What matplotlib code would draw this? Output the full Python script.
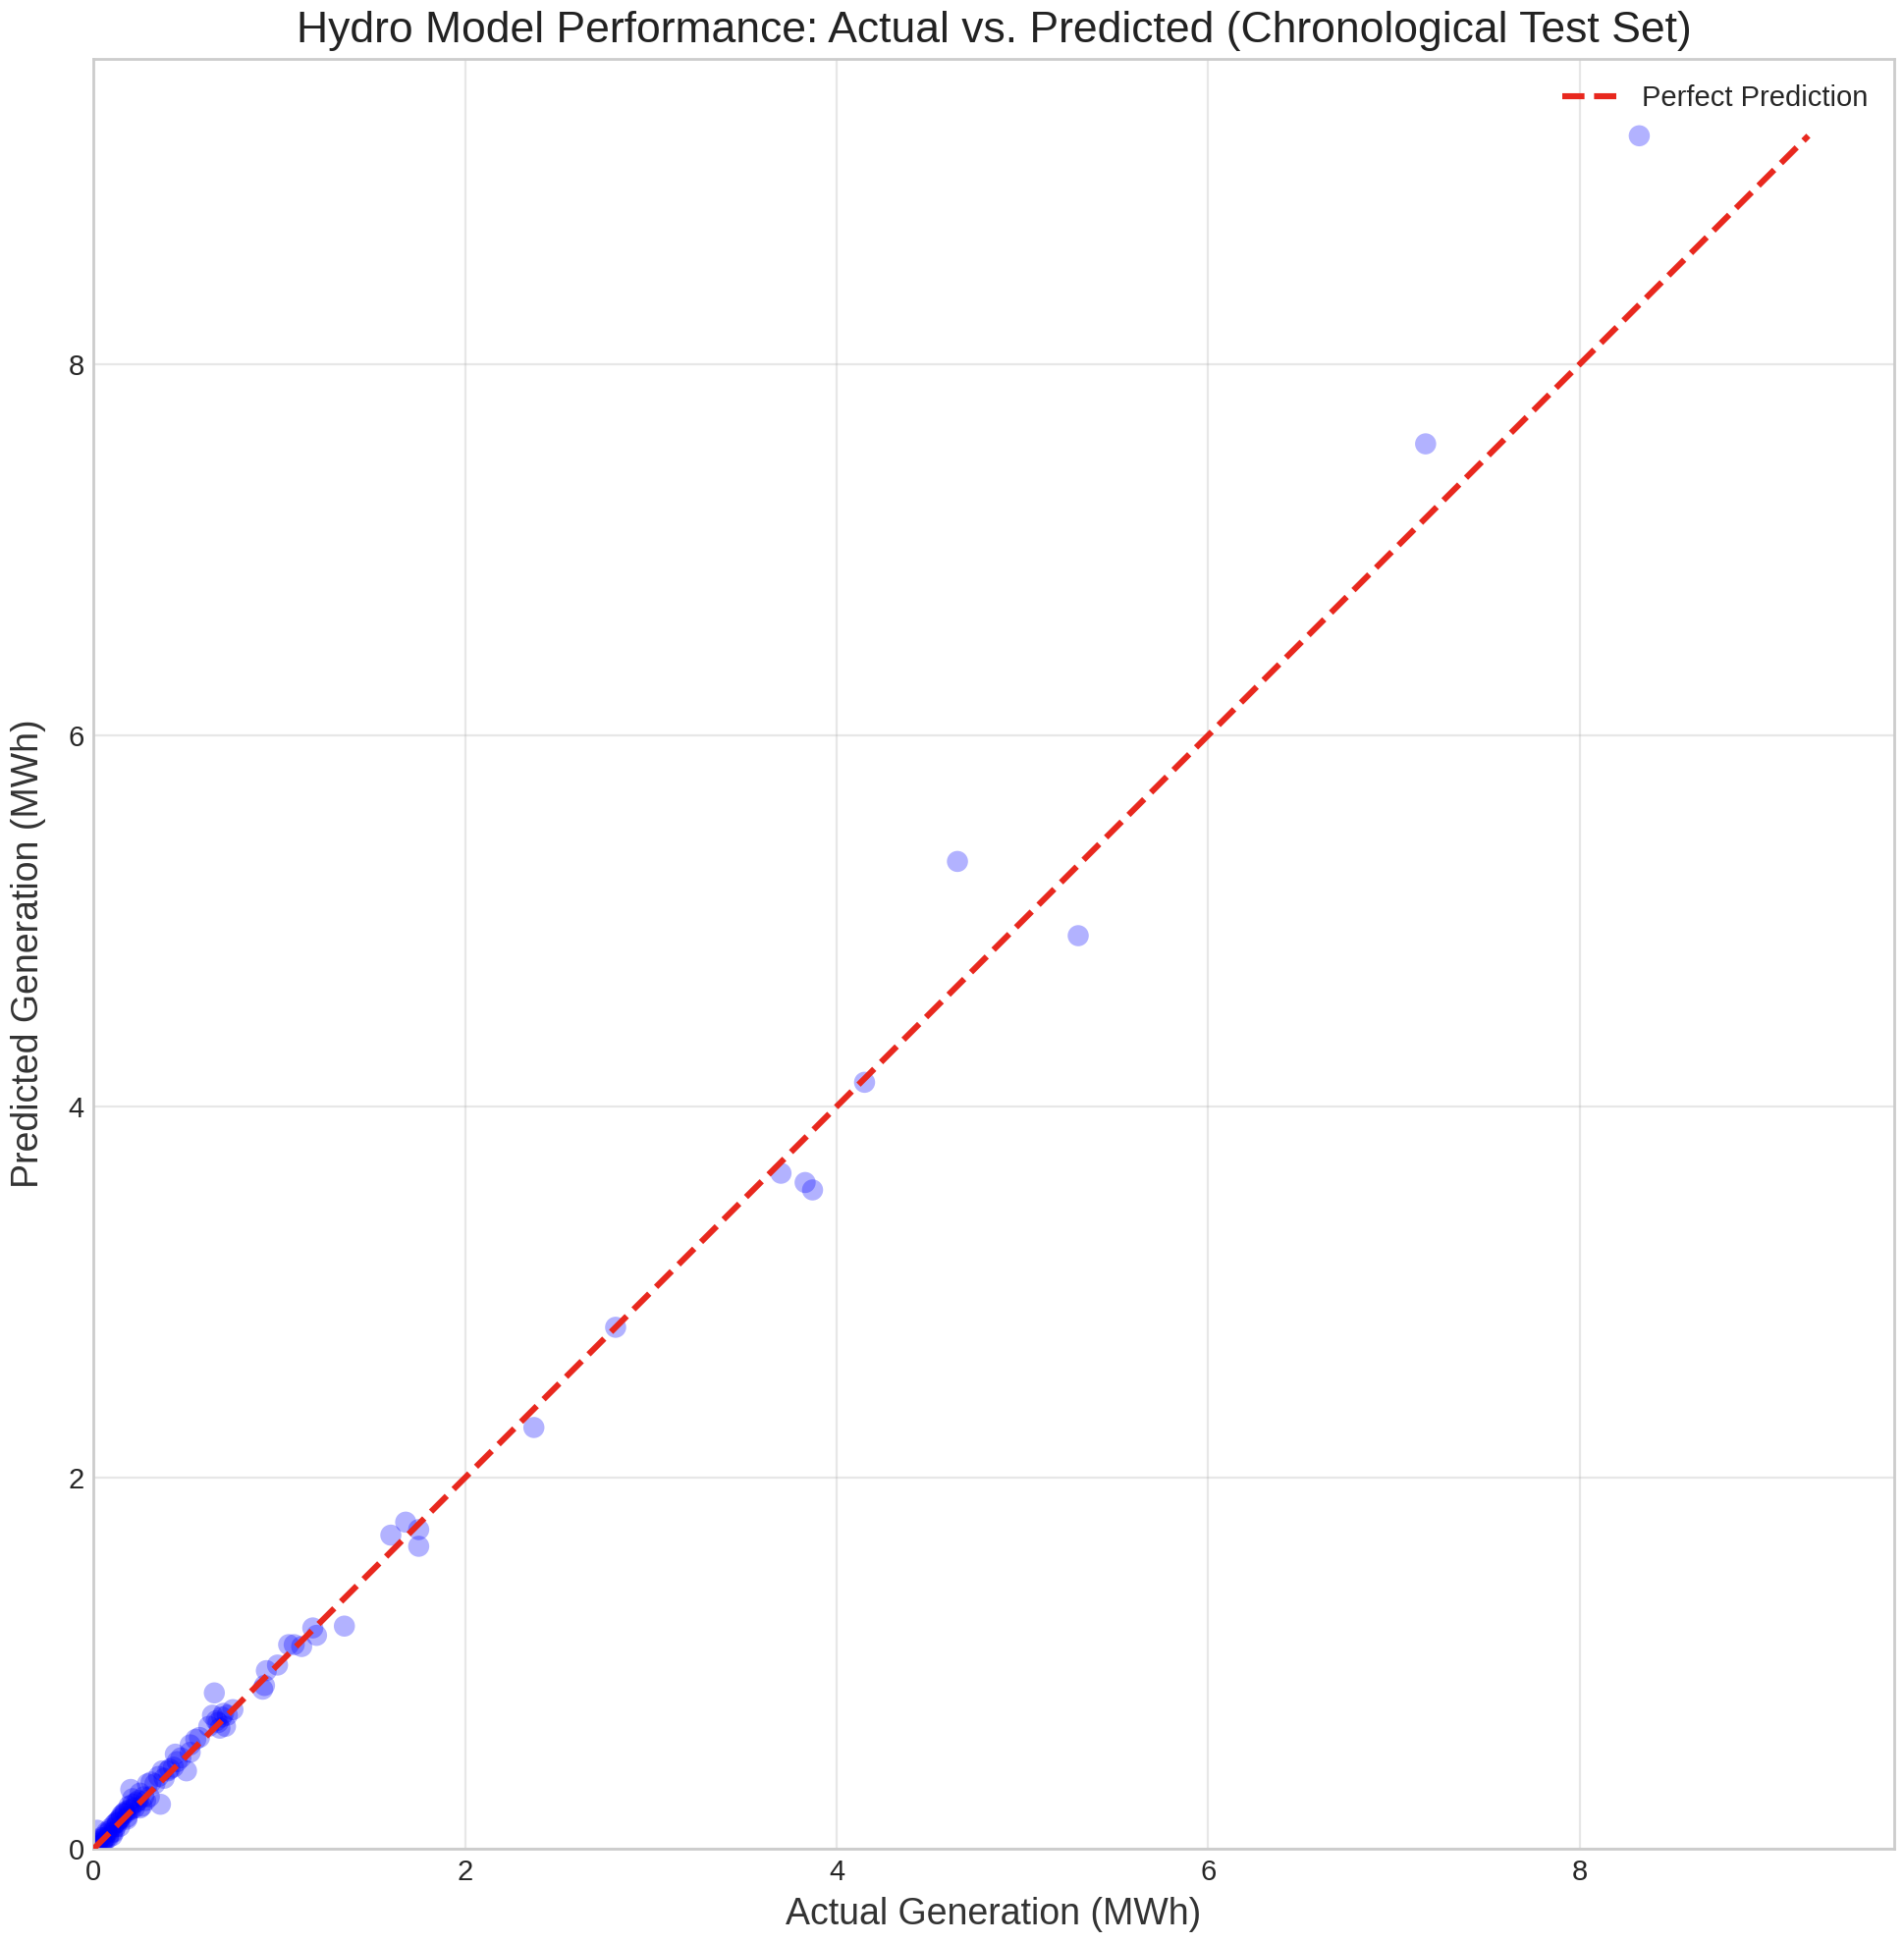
import matplotlib
matplotlib.use("Agg")
import matplotlib.pyplot as plt

actual = [8.32, 7.17, 4.65, 5.30, 4.15, 3.70, 3.83, 3.87, 2.81, 2.37, 1.60, 1.68, 1.75, 1.75,
          1.35, 1.18, 1.20, 1.12, 1.08, 1.05, 0.99, 0.93, 0.91, 0.92, 0.65, 0.64, 0.66, 0.70,
          0.72, 0.68, 0.75, 0.71, 0.62, 0.57, 0.55, 0.52, 0.50, 0.52, 0.47, 0.44, 0.43, 0.40,
          0.38, 0.36, 0.35, 0.37, 0.31, 0.29, 0.27, 0.25, 0.23, 0.21, 0.20, 0.19, 0.20, 0.17,
          0.15, 0.14, 0.13, 0.12, 0.11, 0.10, 0.09, 0.08, 0.07, 0.06, 0.05, 0.04, 0.03, 0.02,
          0.02, 0.01, 0.05, 0.08, 0.12, 0.16, 0.18, 0.22, 0.26, 0.30,
          0.03, 0.06, 0.09, 0.11, 0.14, 0.17, 0.19, 0.24, 0.28, 0.33, 0.41, 0.45, 0.67, 0.69,
          0.04, 0.07, 0.10, 0.13, 0.15, 0.18, 0.21, 0.25, 0.01, 0.02]
predicted = [9.23, 7.57, 5.32, 4.92, 4.13, 3.64, 3.59, 3.55, 2.81, 2.27, 1.69, 1.76, 1.72, 1.63,
             1.20, 1.19, 1.15, 1.09, 1.10, 1.10, 0.99, 0.96, 0.86, 0.88, 0.84, 0.72, 0.69, 0.73,
             0.72, 0.65, 0.75, 0.66, 0.66, 0.60, 0.59, 0.56, 0.42, 0.52, 0.49, 0.51, 0.44, 0.42,
             0.38, 0.24, 0.39, 0.42, 0.36, 0.35, 0.28, 0.30, 0.25, 0.27, 0.32, 0.23, 0.21, 0.20,
             0.18, 0.16, 0.14, 0.12, 0.13, 0.09, 0.11, 0.07, 0.08, 0.06, 0.04, 0.06, 0.02, 0.03,
             0.10, 0.01, 0.03, 0.06, 0.14, 0.19, 0.17, 0.22, 0.23, 0.28,
             0.05, 0.04, 0.10, 0.09, 0.12, 0.19, 0.21, 0.26, 0.26, 0.35, 0.43, 0.47, 0.68, 0.71,
             0.02, 0.09, 0.07, 0.15, 0.17, 0.16, 0.24, 0.22, 0.04, 0.00]

plt.style.use("seaborn-v0_8-whitegrid")
plt.rcParams["font.family"] = ["Liberation Sans", "DejaVu Sans"]
fig, ax = plt.subplots(figsize=(9.7, 9.895), dpi=200)
ax.scatter(actual, predicted, s=60, color="blue", alpha=0.3, edgecolors="none", zorder=2)
mx = max(max(actual), max(predicted))
ax.plot([0, mx], [0, mx], "--", color="#e8281e", lw=2.2, label="Perfect Prediction", zorder=3)
ax.set_xlim(0, mx * 1.05)
ax.set_ylim(0, mx * 1.045)
ax.grid(True, color="#b0b0b0", alpha=0.3, lw=0.8)
for s in ax.spines.values():
    s.set_visible(True); s.set_color("#cccccc")
ax.set_title("Hydro Model Performance: Actual vs. Predicted (Chronological Test Set)", fontsize=16, color="#222222")
ax.set_xlabel("Actual Generation (MWh)", fontsize=13.5, color="#333333")
ax.set_ylabel("Predicted Generation (MWh)", fontsize=13.5, color="#333333", labelpad=8)
ax.tick_params(labelsize=10.5)
ax.legend(loc="upper right", fontsize=10.5)
fig.tight_layout(pad=0.4)
fig.savefig("out.png")
